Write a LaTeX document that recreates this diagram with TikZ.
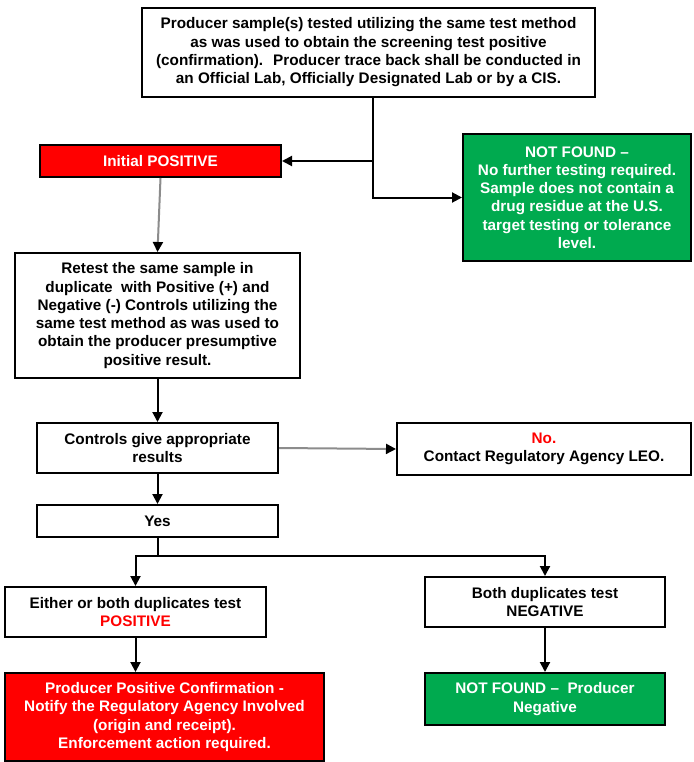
\documentclass[tikz,border=0pt]{standalone}
\usepackage{fontspec}
\setmainfont{Liberation Sans}
\usetikzlibrary{arrows.meta}
\definecolor{alertred}{HTML}{FF0000}
\definecolor{okgreen}{HTML}{00AA4F}
\begin{document}
\begin{tikzpicture}[x=1pt,y=-1pt,
  box/.style={draw=black, line width=2pt, inner sep=0pt, align=center,
    font=\bfseries\fontsize{15.3}{18.3}\selectfont},
  redbox/.style={box, fill=alertred, text=white},
  greenbox/.style={box, fill=okgreen, text=white},
  arr/.style={-{Triangle[length=10pt,width=10pt,color=black]}, line width=2pt},
  greyarr/.style={arr, draw=black!45}]
\useasboundingbox (0,0) rectangle (693,762);
\fill[white] (0,0) rectangle (693,762);

% boxes
\node[box, minimum width=453pt, minimum height=89pt] (top) at (368.5,52.5)
  {Producer sample(s) tested utilizing the same test method\\
   as was used to obtain the screening test positive\\
   (confirmation).~ Producer trace back shall be conducted in\\
   an Official Lab, Officially Designated Lab or by a CIS.};
\node[redbox, minimum width=241pt, minimum height=32pt] (pos) at (160.5,161)
  {Initial POSITIVE};
\node[greenbox, minimum width=228pt, minimum height=127pt] (nf1) at (577,197.5)
  {NOT FOUND \textendash\\
   No further testing required.\\
   Sample does not contain a\\
   drug residue at the U.S.\\
   target testing or tolerance\\
   level.};
\node[box, minimum width=285pt, minimum height=125pt] (retest) at (157.5,315.5)
  {Retest the same sample in\\
   duplicate~ with Positive (+) and\\
   Negative (-) Controls utilizing the\\
   same test method as was used to\\
   obtain the producer presumptive\\
   positive result.};
\node[box, minimum width=241pt, minimum height=50pt] (ctrl) at (157.5,448)
  {Controls give appropriate\\ results};
\node[box, minimum width=294pt, minimum height=52pt] (no) at (544,449)
  {{\color{alertred}No.}\\ Contact Regulatory Agency LEO.};
\node[box, minimum width=241pt, minimum height=32pt] (yes) at (157.5,521)
  {Yes};
\node[box, minimum width=261pt, minimum height=50pt] (either) at (135.5,612)
  {Either or both duplicates test\\ {\color{alertred}POSITIVE}};
\node[box, minimum width=240pt, minimum height=50pt] (both) at (545,602)
  {Both duplicates test\\ NEGATIVE};
\node[redbox, minimum width=319pt, minimum height=88pt] (ppc) at (164.5,717)
  {Producer Positive Confirmation -\\
   Notify the Regulatory Agency Involved\\
   (origin and receipt).\\
   Enforcement action required.};
\node[greenbox, minimum width=240pt, minimum height=52pt] (nf2) at (545,699)
  {NOT FOUND \textendash~ Producer\\ Negative};

% connectors
\coordinate (tb) at (373,97);
\draw[arr] (tb) |- (pos.east);
\draw[arr] (tb) |- (nf1.west);
\draw[greyarr] (pos.south) -- (retest.north);
\draw[arr] (retest.south) -- (ctrl.north);
\draw[greyarr] (ctrl.east) -- (no.west);
\draw[arr] (ctrl.south) -- (yes.north);
\coordinate (split) at (157.5,556);
\draw[line width=2pt] (yes.south) -- (split);
\draw[arr] (split) -| (either.north);
\draw[arr] (split) -| (both.north);
\draw[arr] (either.south) -- (either.south |- ppc.north);
\draw[arr] (both.south) -- (nf2.north);
\end{tikzpicture}
\end{document}
